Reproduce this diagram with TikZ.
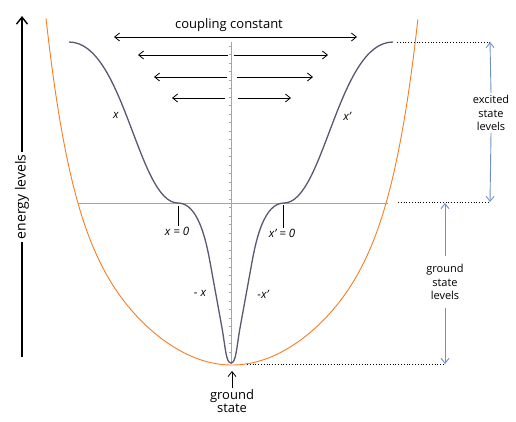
\documentclass[tikz,border=0pt]{standalone}
\usepackage{fontspec}
\setmainfont{Open Sans}
\usetikzlibrary{arrows.meta}

\definecolor{bowlorange}{RGB}{247,125,32}
\definecolor{wellgrey}{RGB}{88,88,115}
\definecolor{axisgrey}{RGB}{165,165,165}
\definecolor{levelblue}{RGB}{110,145,200}

\begin{document}
\begin{tikzpicture}[x=1pt, y=-1pt,
    >={Straight Barb[length=5pt,width=8pt]},
    bowl/.style={draw=bowlorange, line width=0.9pt},
    well/.style={draw=wellgrey, line width=1.3pt},
    guide/.style={draw=axisgrey, line width=0.9pt},
    push/.style={draw, ->, line width=0.8pt},
    levarrow/.style={draw=levelblue, ->, line width=0.9pt},
    dots/.style={draw, dotted, line width=0.8pt},
    tag/.style={font=\fontsize{11.5}{13}\selectfont\itshape, inner sep=1pt},
    note/.style={align=center, font=\fontsize{11}{13.5}\selectfont, inner sep=2pt}
  ]
    \useasboundingbox (0,0) rectangle (516,422);

    % potential bowl and the double well
    \draw[bowl] plot[domain=-1.86:1.86, samples=120, smooth]
      ({232+100*\x}, {365 - 53*\x*\x - 1.14*(\x*\x)*(\x*\x)*(\x*\x)*(\x*\x)});
    \draw[guide] (231,42) -- (231,364);
    \foreach \ty in {46,54.5,...,360}
      \draw[axisgrey, line width=0.5pt] (228.5,\ty) -- (231,\ty);
    \draw[guide] (78,203) -- (388,203);
    \draw[well] (69,42) .. controls (124,42) and (138,203) .. (178,203)
      .. controls (198,203) and (206,240) .. (210,262)
      -- (222,328)
      .. controls (225.5,348) and (226,363) .. (231,363)
      .. controls (236,363) and (236.5,348) .. (240,328)
      -- (252,262)
      .. controls (256,240) and (264,203) .. (284,203)
      .. controls (324,203) and (338,42) .. (393,42);

    % coupling constant
    \node[font=\fontsize{13}{15}\selectfont] (coupling) at (229,25) {coupling constant};
    \coordinate (c1l) at (114,37);
    \coordinate (c1r) at (357,37);
    \draw[push, <->] (c1l) -- (c1r);
    \foreach \row/\yy/\a/\b/\c/\d in {2/55/228/138/234/328, 3/77/227/154/237/313,
                                    4/98/225/172/238/291} {
      \coordinate (in\row l) at (\a,\yy);
      \coordinate (out\row l) at (\b,\yy);
      \coordinate (in\row r) at (\c,\yy);
      \coordinate (out\row r) at (\d,\yy);
      \draw[push] (in\row l) -- (out\row l);
      \draw[push] (in\row r) -- (out\row r);
    }

    % energy axis
    \node[rotate=90, font=\fontsize{14}{16}\selectfont, inner sep=3pt] (energy) at (22,197) {energy levels};
    \coordinate (etop) at (22,16);
    \coordinate (ebot) at (22,357);
    \draw[line width=2.2pt] (energy.west) -- (ebot);
    \draw[line width=2.2pt, -{Straight Barb[length=7pt,width=11pt,line width=1.4pt]}] (energy.east) -- (etop);

    % labels on the curve
    \node[tag] (xl) at (116,115) {x};
    \node[tag] (xr) at (347,116) {x'};
    \node[tag] (x0l) at (177,231) {x = 0};
    \node[tag] (x0r) at (282,233) {x' = 0};
    \node[tag] (mxl) at (200,293) {- x};
    \node[tag] (mxr) at (263,294) {-x'};
    \coordinate (inflL) at (178,206);
    \coordinate (inflR) at (283,205);
    \draw[line width=0.8pt] (inflL) -- (inflL |- x0l.north);
    \draw[line width=0.8pt] (inflR) -- (inflR |- x0r.north);

    % state levels
    \coordinate (wtop) at (397,42);
    \coordinate (exctop) at (490,42);
    \coordinate (wmid) at (398,202);
    \coordinate (excbot) at (490,202);
    \coordinate (gndtop) at (445,203);
    \coordinate (wbot) at (247,364);
    \coordinate (gndbot) at (445,364);
    \draw[dots] (wtop) -- (exctop);
    \draw[dots] (wmid) -- (excbot);
    \draw[dots] (wbot) -- (gndbot);
    \node[note] (excited) at (491,113) {excited\\state\\levels};
    \draw[levarrow] (excited.north) -- (exctop);
    \draw[levarrow] (excited.south) -- (excbot);
    \node[note, inner ysep=8pt] (groundlev) at (445,282) {ground\\state\\levels};
    \draw[levarrow] (groundlev.north) -- (gndtop);
    \draw[levarrow] (groundlev.south) -- (gndbot);

    % ground state
    \node[align=center, font=\fontsize{13}{13}\selectfont, inner sep=1pt] (gstate) at (232,401) {ground\\state};
    \coordinate (gsmin) at (232,371);
    \draw[push] (gstate.north) -- (gsmin);
\end{tikzpicture}
\end{document}
